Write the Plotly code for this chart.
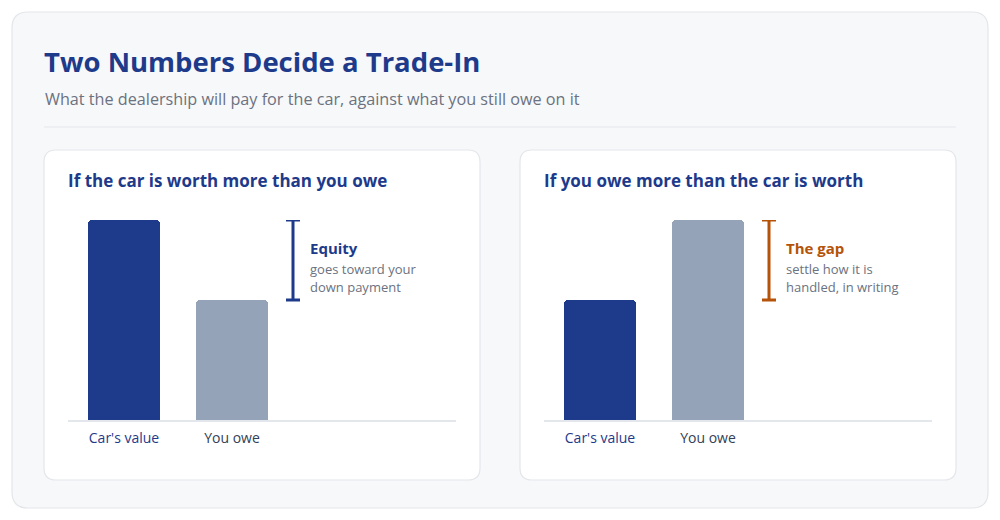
import plotly.graph_objects as go

# page body has an 8px margin: figure is sized to fit the 1000x520 window exactly
OFF = 8
W, H = 1000 - 2 * OFF, 520 - 2 * OFF

# ---- data ----
categories = ["Car's value", "You owe"]
equity_values = [100, 60]      # car worth more than owed
negative_values = [60, 100]    # owe more than car is worth
bar_colors = ["#1e3a8a", "#94a3b8"]
label_colors = ["#1e3a8a", "#334155"]

title = "Two Numbers Decide a Trade-In"
subtitle = "What the dealership will pay for the car, against what you still owe on it"
panel_titles = ["If the car is worth more than you owe", "If you owe more than the car is worth"]
note_heads = ["Equity", "The gap"]
note_lines = [["goes toward your", "down payment"], ["settle how it is", "handled, in writing"]]
note_colors = ["#1e3a8a", "#b45309"]

FONT = "Open Sans"

def px(x):
    return (x - OFF) / W

def py(y):
    return 1 - (y - OFF) / H

def rrect(x0, y0, x1, y1, r):
    X = lambda v: f"{px(v):.5f}"
    Y = lambda v: f"{py(v):.5f}"
    return (f"M {X(x0+r)},{Y(y0)} L {X(x1-r)},{Y(y0)} Q {X(x1)},{Y(y0)} {X(x1)},{Y(y0+r)} "
            f"L {X(x1)},{Y(y1-r)} Q {X(x1)},{Y(y1)} {X(x1-r)},{Y(y1)} "
            f"L {X(x0+r)},{Y(y1)} Q {X(x0)},{Y(y1)} {X(x0)},{Y(y1-r)} "
            f"L {X(x0)},{Y(y0+r)} Q {X(x0)},{Y(y0)} {X(x0+r)},{Y(y0)} Z")

fig = go.Figure()

shapes = [
    dict(type="path", path=rrect(12, 12, 988, 508, 16), xref="paper", yref="paper",
         fillcolor="#f7f8fa", line=dict(color="#e3e6ea", width=1.2), layer="below"),
    dict(type="line", xref="paper", yref="paper", x0=px(44), x1=px(956), y0=py(127), y1=py(127),
         line=dict(color="#e3e6ea", width=1.2), layer="below"),
]
annotations = [
    dict(text=f"<b>{title}</b>", x=px(42), y=py(62), xref="paper", yref="paper", xanchor="left",
         yanchor="middle", showarrow=False, font=dict(family=FONT, size=27.5, color="#1e3a8a")),
    dict(text=subtitle, x=px(43), y=py(99), xref="paper", yref="paper", xanchor="left",
         yanchor="middle", showarrow=False, font=dict(family=FONT, size=16.2, color="#6b7280")),
]

panels = [(44, equity_values), (520, negative_values)]
unit = 108.0
for i, (left, vals) in enumerate(panels):
    n = i + 1
    xa = "x" if n == 1 else f"x{n}"
    ya = "y" if n == 1 else f"y{n}"
    plot_l = left + 24
    plot_r = left + 412
    c0 = left + 80  # center of first category
    shapes.append(dict(type="path", path=rrect(left, 150, left + 436, 480, 12), xref="paper", yref="paper",
                       fillcolor="#ffffff", line=dict(color="#e3e6ea", width=1.2), layer="below"))
    annotations.append(dict(text=f"<b>{panel_titles[i]}</b>", x=px(left + 22), y=py(180), xref="paper",
                            yref="paper", xanchor="left", yanchor="middle", showarrow=False,
                            font=dict(family=FONT, size=17, color="#1e3a8a")))
    fig.add_trace(go.Bar(x=[0, 1], y=vals, marker=dict(color=bar_colors, cornerradius=4, line=dict(width=0)),
                         width=72 / unit, xaxis=xa, yaxis=ya, showlegend=False,
                         hovertext=categories, hoverinfo="text+y"))
    hi, lo = max(vals), min(vals)
    bx = 169 / unit  # bracket position in category units
    cap = 7 / unit
    for (xx0, yy0, xx1, yy1) in [(bx, lo, bx, hi), (bx - cap, hi, bx + cap, hi), (bx - cap, lo, bx + cap, lo)]:
        shapes.append(dict(type="line", xref=xa, yref=ya, x0=xx0, y0=yy0, x1=xx1, y1=yy1,
                           line=dict(color=note_colors[i], width=3)))
    tx = 184 / unit
    annotations.append(dict(text=f"<b>{note_heads[i]}</b>", x=tx, y=86, xref=xa, yref=ya, xanchor="left",
                            yanchor="middle", showarrow=False,
                            font=dict(family=FONT, size=15, color=note_colors[i])))
    for j, line in enumerate(note_lines[i]):
        annotations.append(dict(text=line, x=tx, y=75.5 - 9 * j, xref=xa, yref=ya, xanchor="left",
                                yanchor="middle", showarrow=False,
                                font=dict(family=FONT, size=13, color="#6b7280")))
    xr = [(plot_l - c0) / unit, (plot_r - c0) / unit]
    ticktext = [f"<span style='color:{label_colors[k]}'>{categories[k]}</span>" for k in range(2)]
    fig.update_layout(**{
        ("xaxis" if n == 1 else f"xaxis{n}"): dict(
            domain=[px(plot_l), px(plot_r)], range=xr, anchor=ya, tickmode="array", tickvals=[0, 1],
            ticktext=ticktext, showgrid=False, zeroline=False, showline=True, linecolor="#e3e6ea",
            linewidth=2, ticks="", ticklabelstandoff=4, tickfont=dict(family=FONT, size=14, color="#334155"),
            fixedrange=True),
        ("yaxis" if n == 1 else f"yaxis{n}"): dict(
            domain=[py(420), py(220)], range=[0, 100], anchor=xa, visible=False, showgrid=False,
            zeroline=False, fixedrange=True),
    })

fig.update_layout(
    width=W, height=H, margin=dict(l=0, r=0, t=0, b=0),
    paper_bgcolor="#ffffff", plot_bgcolor="rgba(0,0,0,0)",
    shapes=shapes, annotations=annotations, bargap=0, showlegend=False,
    font=dict(family=FONT),
)
fig.update_traces(cliponaxis=False)

fig.write_html("out.html")
